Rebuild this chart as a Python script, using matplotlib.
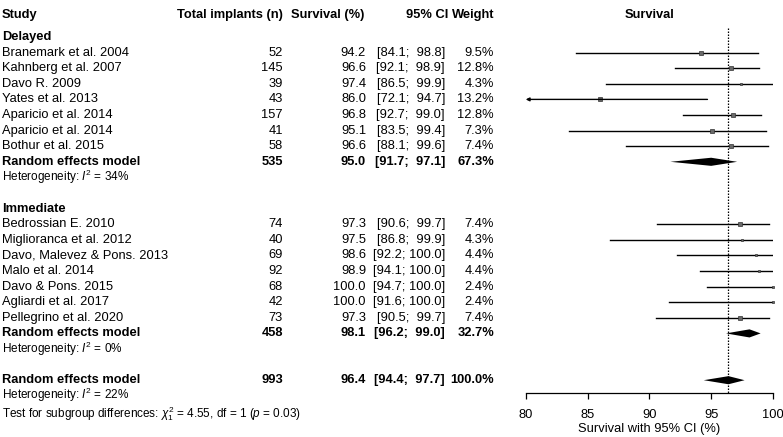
import matplotlib.pyplot as plt
import matplotlib.transforms as mtransforms
import numpy as np

plt.rcParams['font.family'] = ['Liberation Sans', 'DejaVu Sans']
plt.rcParams['mathtext.fontset'] = 'custom'
plt.rcParams['mathtext.rm'] = 'Liberation Sans'
plt.rcParams['mathtext.it'] = 'Liberation Sans:italic'
plt.rcParams['mathtext.bf'] = 'Liberation Sans:bold'

# delayed group
del_study = ['Branemark et al. 2004', 'Kahnberg et al. 2007', 'Davo R. 2009', 'Yates et al. 2013',
             'Aparicio et al. 2014', 'Aparicio et al. 2014', 'Bothur et al. 2015']
del_n = [52, 145, 39, 43, 157, 41, 58]
del_est = [94.2, 96.6, 97.4, 86.0, 96.8, 95.1, 96.6]
del_lo = [84.1, 92.1, 86.5, 72.1, 92.7, 83.5, 88.1]
del_hi = [98.8, 98.9, 99.9, 94.7, 99.0, 99.4, 99.6]
del_w = [9.5, 12.8, 4.3, 13.2, 12.8, 7.3, 7.4]
del_pool = (535, 95.0, 91.7, 97.1, 67.3)

# immediate group
imm_study = ['Bedrossian E. 2010', 'Miglioranca et al. 2012', 'Davo, Malevez & Pons. 2013', 'Malo et al. 2014',
             'Davo & Pons. 2015', 'Agliardi et al. 2017', 'Pellegrino et al. 2020']
imm_n = [74, 40, 69, 92, 68, 42, 73]
imm_est = [97.3, 97.5, 98.6, 98.9, 100.0, 100.0, 97.3]
imm_lo = [90.6, 86.8, 92.2, 94.1, 94.7, 91.6, 90.5]
imm_hi = [99.7, 99.9, 100.0, 100.0, 100.0, 100.0, 99.7]
imm_w = [7.4, 4.3, 4.4, 4.4, 2.4, 2.4, 7.4]
imm_pool = (458, 98.1, 96.2, 99.0, 32.7)

overall = (993, 96.4, 94.4, 97.7, 100.0)
xticks = [80, 85, 90, 95, 100]

W, H = 783, 437
fig = plt.figure(figsize=(W / 100, H / 100), dpi=100)


def row_px(r):
    return 37 + (r - 1) * 15.6


top_row, bot_row = -1, 23.8
ax = fig.add_axes([525.7 / W, 1 - row_px(bot_row) / H, (773 - 525.7) / W,
                   (row_px(bot_row) - row_px(top_row)) / H])
ax.set_xlim(80, 100)
ax.set_ylim(bot_row, top_row)
for s in ['top', 'left', 'right']:
    ax.spines[s].set_visible(False)
ax.spines['bottom'].set_linewidth(0.9)
ax.set_yticks([])
ax.set_xticks(xticks)
ax.tick_params(axis='x', length=4, width=0.9, pad=8, labelsize=9.3)
ax.set_xlabel('Survival with 95% CI (%)', fontsize=9.3, labelpad=1)

tr = mtransforms.blended_transform_factory(fig.transFigure, ax.transData)
fs = 9.3


def txt(xpx, r, s, ha='right', bold=False, size=fs):
    ax.text(xpx / W, r, s, transform=tr, ha=ha, va='center', fontsize=size,
            fontweight='bold' if bold else 'normal')


def ci_str(lo, hi):
    sep = '; ' if hi >= 100 else ';  '
    return '[%.1f%s%.1f]' % (lo, sep, hi)


# headers
hr = -0.41
txt(2, hr, 'Study', ha='left', bold=True)
txt(283, hr, 'Total implants (n)', bold=True)
txt(364, hr, 'Survival (%)', bold=True)
txt(448, hr, '95% CI', bold=True)
txt(494, hr, 'Weight', bold=True)
ax.text(0.5, hr, 'Survival', transform=mtransforms.blended_transform_factory(ax.transAxes, ax.transData),
        ha='center', va='center', fontsize=fs, fontweight='bold')


def study_rows(start, names, n, est, lo, hi, w):
    for i in range(len(names)):
        r = start + i
        txt(2, r, names[i], ha='left')
        txt(283, r, str(n[i]))
        txt(366, r, '%.1f' % est[i])
        txt(445, r, ci_str(lo[i], hi[i]))
        txt(494, r, '%.1f%%' % w[i])
        if lo[i] < 80:
            ax.annotate('', xy=(80, r), xytext=(hi[i], r),
                        arrowprops=dict(arrowstyle='-|>', lw=1, color='black',
                                        shrinkA=0, shrinkB=0, mutation_scale=5))
        else:
            ax.plot([lo[i], hi[i]], [r, r], color='black', lw=1)
        ax.plot(est[i], r, marker='s', ms=max(np.sqrt(w[i]) * 0.85, 2.0), mfc='#6a6a6a',
                mec='#333333', mew=0.5, clip_on=False)


def pooled_row(r, pool, label):
    nn, e, l, h, w = pool
    txt(2, r, label, ha='left', bold=True)
    txt(283, r, str(nn), bold=True)
    txt(366, r, '%.1f' % e, bold=True)
    txt(445, r, ci_str(l, h), bold=True)
    txt(494, r, '%.1f%%' % w, bold=True)
    d = 0.26
    ax.fill([l, e, h, e], [r, r - d, r, r + d], color='black', lw=0)


hs = 8.5
txt(2, 1, 'Delayed', ha='left', bold=True)
study_rows(2, del_study, del_n, del_est, del_lo, del_hi, del_w)
pooled_row(9, del_pool, 'Random effects model')
txt(2, 10, r'Heterogeneity: $\mathit{I}^2$ = 34%', ha='left', size=hs)

txt(2, 12, 'Immediate', ha='left', bold=True)
study_rows(13, imm_study, imm_n, imm_est, imm_lo, imm_hi, imm_w)
pooled_row(20, imm_pool, 'Random effects model')
txt(2, 21, r'Heterogeneity: $\mathit{I}^2$ = 0%', ha='left', size=hs)

pooled_row(23, overall, 'Random effects model')
txt(2, 23.95, r'Heterogeneity: $\mathit{I}^2$ = 22%', ha='left', size=hs)
txt(2, 25.15, r'Test for subgroup differences: $\chi^2_1$ = 4.55, df = 1 ($\mathit{p}$ = 0.03)', ha='left', size=hs)

ax.plot([overall[1], overall[1]], [0.42, bot_row], color='black', lw=0.9, ls=(0, (1.2, 1.2)), zorder=0)

fig.savefig('out.png', dpi=100)
